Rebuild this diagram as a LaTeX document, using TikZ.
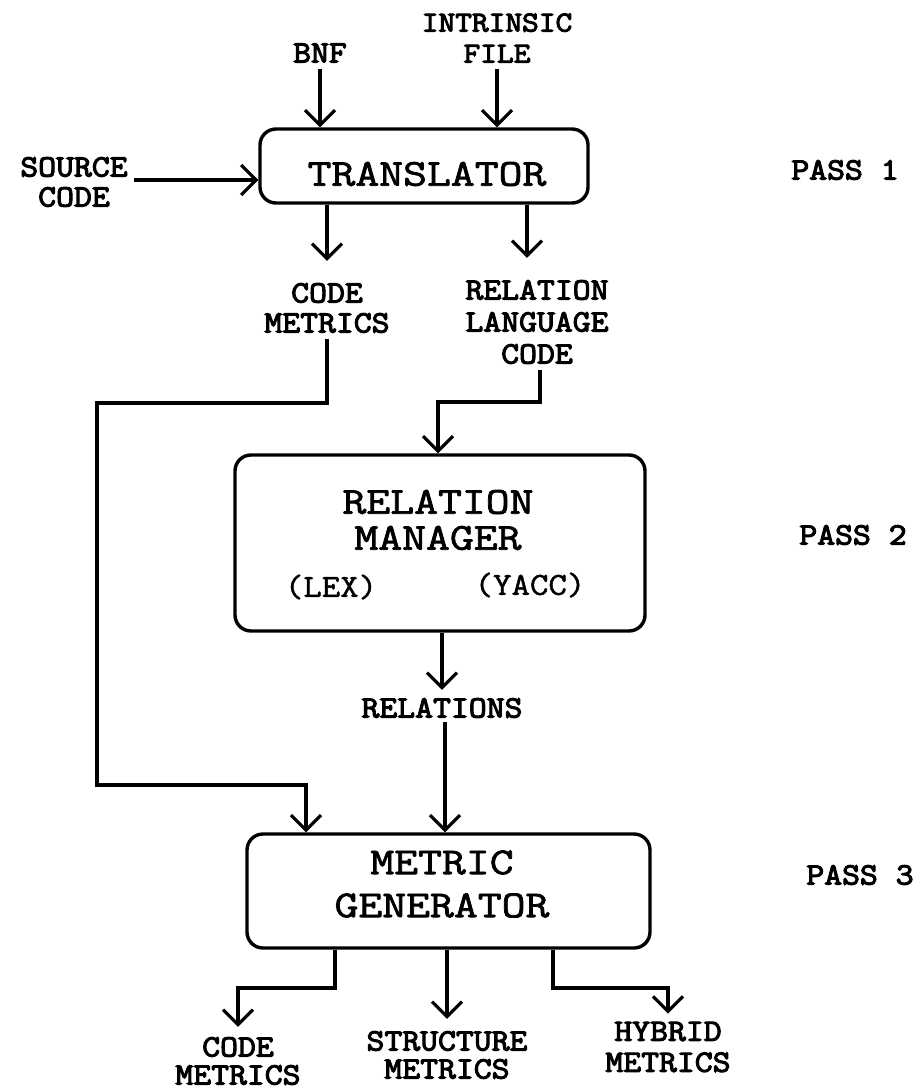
\documentclass[tikz,border=0pt]{standalone}
\usepackage{fontspec}
\newfontfamily\twl{Latin Modern Mono}[FakeStretch=1.12,FakeBold=3.5]
\newfontfamily\twb{Latin Modern Mono}[FakeStretch=1.22,FakeBold=2]
\newfontfamily\twp{Latin Modern Mono}[FakeStretch=1.12,FakeBold=1.5]
\usetikzlibrary{arrows.meta,calc}
\begin{document}
\begin{tikzpicture}[x=1pt,y=-1pt,
  box/.style={draw,line width=3.4pt,rounded corners=16pt,inner sep=0pt},
  lbl/.style={font=\twl\fontsize{31}{30}\selectfont,align=center,inner sep=2pt},
  big/.style={font=\twb\fontsize{38}{40}\selectfont,align=center,inner sep=2pt},
  paren/.style={font=\twp\fontsize{32}{32}\selectfont,inner sep=2pt},
  pass/.style={font=\twl\fontsize{31}{31}\selectfont,inner sep=2pt},
  conn/.style={line width=3.2pt},
  arr/.style={conn,-{Straight Barb[length=15pt,width=30pt]}}
]
\useasboundingbox (0,0) rectangle (922,1091);

% boxes
\node[box,minimum width=328pt,minimum height=74pt] (tr) at (424,166) {};
\node[box,minimum width=410pt,minimum height=176pt] (rm) at (440,543) {};
\node[box,minimum width=403pt,minimum height=114pt] (mg) at (448.5,891) {};

% box texts
\node[big] (trt) at (427,174) {TRANSLATOR};
\node[big,font=\twb\fontsize{38}{36}\selectfont] (rmt) at (438,520) {RELATION\\MANAGER};
\node[paren] (lex) at (331,587) {(LEX)};
\node[paren] (yacc) at (530,585) {(YACC)};
\node[big,font=\twb\fontsize{38}{43}\selectfont] (mgt) at (442,884) {METRIC\\GENERATOR};

% labels
\node[lbl] (bnf) at (320,53) {BNF};
\node[lbl,font=\twl\fontsize{29}{31}\selectfont] (int) at (497,38) {INTRINSIC\\FILE};
\node[lbl] (src) at (74,182) {SOURCE\\CODE};
\node[lbl] (cm) at (327,308) {CODE\\METRICS};
\node[lbl,font=\twl\fontsize{31}{32}\selectfont] (rl) at (537,322) {RELATION\\LANGUAGE\\CODE};
\node[lbl] (rel) at (442,708) {RELATIONS};
\node[lbl,font=\twl\fontsize{31}{28}\selectfont] (cm2) at (238,1061) {CODE\\METRICS};
\node[lbl,font=\twl\fontsize{31}{28}\selectfont] (sm) at (447,1055) {STRUCTURE\\METRICS};
\node[lbl,font=\twl\fontsize{31}{31}\selectfont] (hm) at (668,1047) {HYBRID\\METRICS};

\node[pass] (p1) at (845,170) {PASS 1};
\node[pass] (p2) at (853,535) {PASS 2};
\node[pass] (p3) at (860,875) {PASS 3};

% connectors
\draw[arr,shorten <=4pt] (bnf.south) -- (bnf.south |- tr.north);
\draw[arr,shorten <=4pt] (int.south) -- (int.south |- tr.north);
\draw[arr,shorten <=4pt] (src.east |- 0,180) -- (tr.west |- 0,180);
\draw[arr,shorten >=20pt] (tr.south -| cm.north) -- (cm.north);
\draw[arr,shorten >=20pt] (tr.south -| 527,0) -- (527,0 |- rl.north);

\draw[arr,shorten <=4pt] (cm.south) |- (97,403) |- (306,785) -- (306,0 |- mg.north);
\draw[arr,shorten <=4pt] (rl.south -| 540,0) |- (438,402) -- (438,0 |- rm.north);

\draw[arr,shorten >=6pt] (rm.south -| rel.north) -- (rel.north);
\draw[arr,shorten <=2pt] (rel.south -| 445,0) -- (445,0 |- mg.north);

\draw[arr,shorten >=8pt] (mg.south -| 335,0) -- (335,988) -| (cm2.north);
\draw[arr,shorten >=10pt] (mg.south -| sm.north) -- (sm.north);
\draw[arr,shorten >=6pt] (mg.south -| 553,0) -- (553,988) -| (hm.north);
\end{tikzpicture}
\end{document}
